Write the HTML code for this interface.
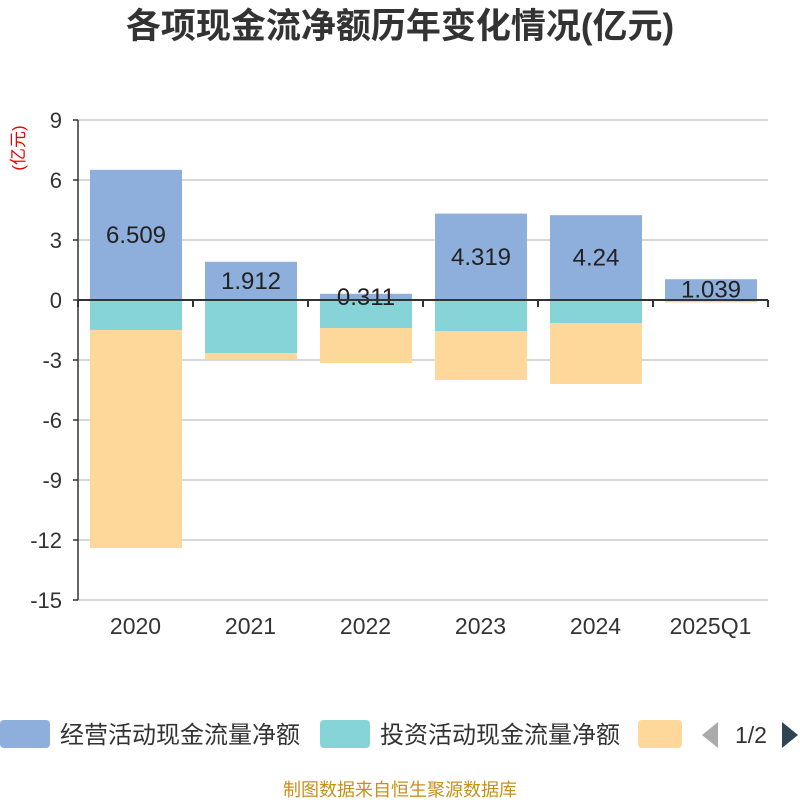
<!DOCTYPE html>
<html><head><meta charset="utf-8"><style>
body{margin:0;background:#fff;font-family:"Liberation Sans","Noto Sans CJK SC",sans-serif}
</style></head><body>
<svg width="800" height="800" xmlns="http://www.w3.org/2000/svg" font-family="Liberation Sans, Noto Sans CJK SC, sans-serif">
<text x="400" y="38" text-anchor="middle" font-size="35" font-weight="bold" fill="#333">各项现金流净额历年变化情况(亿元)</text>
<text transform="translate(24,148) rotate(-90)" text-anchor="middle" font-size="17" fill="#e00">(亿元)</text>
<g id="grid"></g><g id="bars"></g><g id="axes"></g>
<g>
<rect x="0" y="720" width="50" height="28" rx="4" fill="#8eaedb"/>
<text x="60" y="743" font-size="24" fill="#333">经营活动现金流量净额</text>
<rect x="320" y="720" width="50" height="28" rx="4" fill="#86d4d8"/>
<text x="380" y="743" font-size="24" fill="#333">投资活动现金流量净额</text>
<rect x="638" y="720" width="44" height="28" rx="4" fill="#fed89b"/>
<polygon points="718,722 718,748 702,735" fill="#aaa"/>
<text x="751" y="743" text-anchor="middle" font-size="23" fill="#333">1/2</text>
<polygon points="782,722 782,748 798,735" fill="#2f4554"/>
</g>
<text x="400" y="796" text-anchor="middle" font-size="18" fill="#c8901b">制图数据来自恒生聚源数据库</text>
</svg>
<script>
const categories=["2020","2021","2022","2023","2024","2025Q1"];
const operating=[6.509,1.912,0.311,4.319,4.24,1.039];
const investing=[-1.5,-2.65,-1.4,-1.55,-1.15,-0.07];
const financing=[-10.9,-0.3,-1.75,-2.45,-3.05,-0.05];
const yTicks=[9,6,3,0,-3,-6,-9,-12,-15];
const NS="http://www.w3.org/2000/svg";
const x0=78,x1=768,bw=115;
const y=v=>300-v*20;
function mk(t,a,p){const e=document.createElementNS(NS,t);for(const k in a)e.setAttribute(k,a[k]);p.appendChild(e);return e;}
const grid=document.getElementById('grid'),bars=document.getElementById('bars'),axes=document.getElementById('axes');
yTicks.forEach(v=>{
 const l=mk('line',{x1:x0,x2:x1,y1:y(v),y2:y(v),stroke:'#ccc','stroke-width':1.5},grid);
 
 
 const t=mk('text',{x:62,y:y(v)+8,'text-anchor':'end','font-size':22,fill:'#333'},axes);
 t.textContent=v;
 
 
 const tk=mk('line',{x1:x0-5,x2:x0,y1:y(v),y2:y(v),stroke:'#333','stroke-width':1.5},axes);
 
 
});
categories.forEach((c,i)=>{
 const bx=x0+i*bw+12,w=92;
 const r1=mk('rect',{x:bx,y:y(operating[i]),width:w,height:operating[i]*20,fill:'#8eaedb'},bars);
 
 
 const r2=mk('rect',{x:bx,y:300,width:w,height:-investing[i]*20,fill:'#86d4d8'},bars);
 
 
 const r3=mk('rect',{x:bx,y:300-investing[i]*20,width:w,height:-financing[i]*20,fill:'#fed89b'},bars);
 
 
 const lb=mk('text',{x:bx+w/2,y:y(operating[i]/2)+8,'text-anchor':'middle','font-size':24,fill:'#222'},bars);
 lb.textContent=operating[i];
 
 
 const xt=mk('text',{x:x0+i*bw+bw/2,y:634,'text-anchor':'middle','font-size':23,fill:'#333'},axes);
 xt.textContent=c;
 
 
});
for(let i=0;i<=categories.length;i++){
 const t=mk('line',{x1:x0+i*bw,x2:x0+i*bw,y1:300,y2:307,stroke:'#333','stroke-width':2},axes);
 
 
}
const ya=mk('line',{x1:x0,x2:x0,y1:120,y2:600,stroke:'#333','stroke-width':1.5},axes);


const xa=mk('line',{x1:x0,x2:x1,y1:300,y2:300,stroke:'#333','stroke-width':2},axes);


</script>
</body></html>
